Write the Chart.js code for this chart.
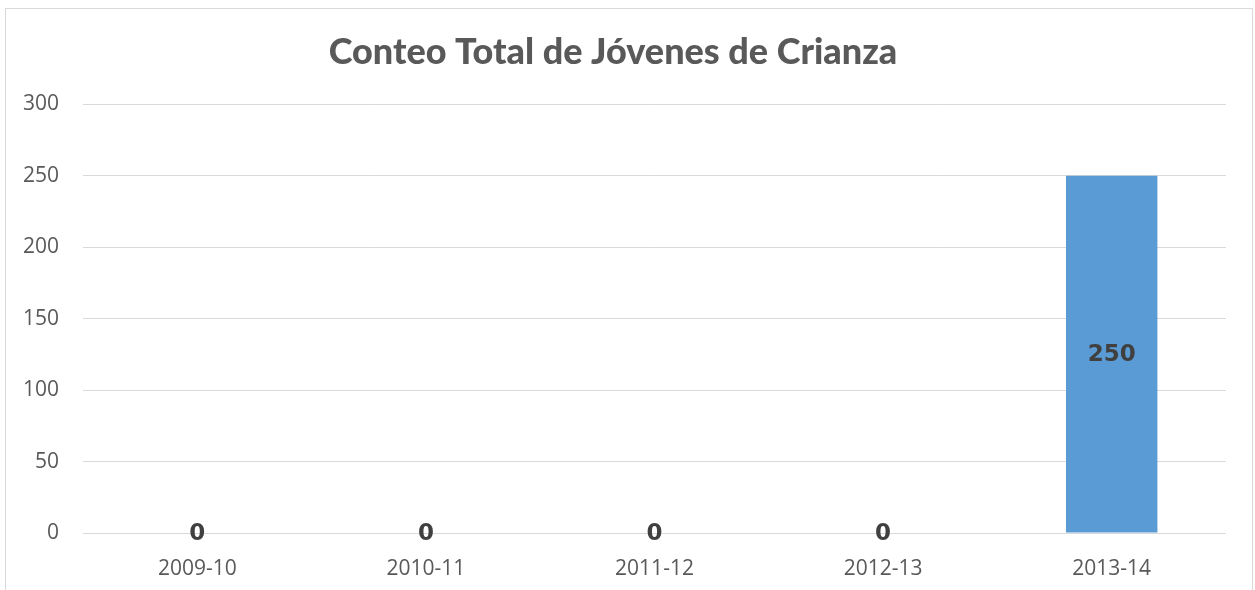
<!DOCTYPE html>
<html>
<head>
<meta charset="utf-8">
<script src="https://cdn.jsdelivr.net/npm/chart.js@4"></script>
<style>
  html, body { margin: 0; padding: 0; background: #fff; overflow: hidden; }
  #frame { position: absolute; left: 5px; top: 8px; width: 1248px; height: 620px; border: 1px solid #d9d9d9; box-sizing: border-box; }
  #chart { position: absolute; left: 0; top: 0; }
</style>
</head>
<body>
<div id="frame"></div>
<canvas id="chart" width="1255" height="590"></canvas>
<script>
// Données du graphique
const categories = ['2009-10', '2010-11', '2011-12', '2012-13', '2013-14'];
const totals = [0, 0, 0, 0, 250];
const yTicks = [0, 50, 100, 150, 200, 250, 300];

// Étiquettes de valeurs au centre de chaque barre
const valueLabels = {
    id: 'valueLabels',
    afterDatasetsDraw(chart) {
        const ctx = chart.ctx;
        const meta = chart.getDatasetMeta(0);
        ctx.save();
        ctx.font = 'bold 23px "DejaVu Sans"';
        ctx.fillStyle = '#404040';
        ctx.textAlign = 'center';
        ctx.textBaseline = 'middle';
        meta.data.forEach((bar, i) => {
            const y = (bar.y + bar.base) / 2;
            ctx.fillText(String(totals[i]), bar.x, y + 1);
        });
        ctx.restore();
    }
};

new Chart(document.getElementById('chart'), {
    type: 'bar',
    data: {
        labels: categories,
        datasets: [{
            data: totals,
            backgroundColor: '#5b9bd5',
            categoryPercentage: 0.4,
            barPercentage: 1
        }]
    },
    options: {
        responsive: false,
        animation: false,
        layout: { padding: { left: 0, right: 29, top: 0, bottom: 0 } },
        plugins: {
            legend: { display: false },
            tooltip: { enabled: false },
            title: {
                display: true,
                text: 'Conteo Total de Jóvenes de Crianza',
                color: '#595959',
                font: { family: 'Lato', size: 36, weight: '900' },
                padding: { top: 31, bottom: 30 }
            }
        },
        scales: {
            x: {
                grid: { display: false },
                border: { display: false },
                ticks: { color: '#595959', font: { family: 'Open Sans', size: 21 }, padding: 15 },
                afterFit(scale) { scale.height = 57; }
            },
            y: {
                min: 0,
                max: 300,
                afterBuildTicks(scale) { scale.ticks = yTicks.map(v => ({ value: v })); },
                grid: { color: '#d9d9d9', drawTicks: false },
                border: { display: false },
                ticks: { color: '#595959', font: { family: 'Open Sans', size: 21 }, padding: 24 },
                afterFit(scale) { scale.width = 83; }
            }
        }
    },
    plugins: [valueLabels]
});
</script>
</body>
</html>
